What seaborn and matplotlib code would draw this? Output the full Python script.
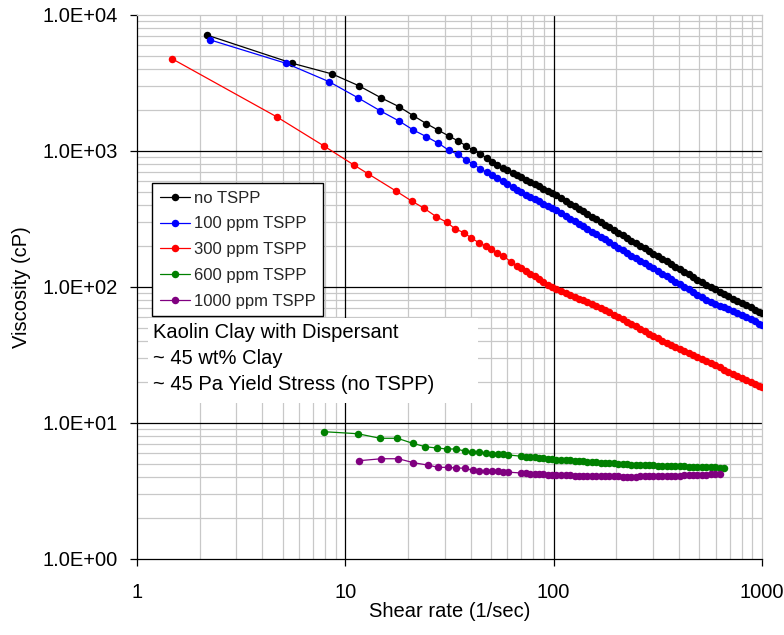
import matplotlib
matplotlib.use("Agg")
import matplotlib.pyplot as plt
from matplotlib.patches import Rectangle
from matplotlib.ticker import FixedLocator, FuncFormatter, NullFormatter, LogLocator
import pandas as pd
import seaborn as sns

# Series names and colours
samples = ["no TSPP", "100 ppm TSPP", "300 ppm TSPP", "600 ppm TSPP", "1000 ppm TSPP"]
colors = ["#000000", "#0000FF", "#FF0000", "#008000", "#800080"]

# Low shear-rate steps (1/sec) and viscosities (cP), individual readings
rate_none = [2.16, 5.57, 8.65, 11.6, 14.8, 18.1, 21.2, 24.5, 28.0, 31.4, 34.6, 38.1, 41.2,
             44.3, 47.7, 50.8, 53.7, 57.0, 60.0, 63.6, 66.5]
visc_none = [7130, 4414, 3683, 3020, 2466, 2117, 1818, 1588, 1419, 1289, 1190, 1089, 1012,
             951, 893, 834, 793, 754, 725, 692, 663]

rate_100 = [2.23, 5.19, 8.35, 11.47, 14.68, 18.1, 21.2, 24.5, 28.0, 31.4, 34.6, 38.1, 41.2,
            44.3, 47.7, 50.8, 53.7, 57.0, 60.0, 63.6, 66.5]
visc_100 = [6580, 4414, 3235, 2466, 1978, 1662, 1427, 1274, 1139, 1012, 945, 859, 798,
            741, 697, 663, 633, 602, 572, 541, 517]

rate_300 = [1.48, 4.70, 7.9, 11.05, 12.9, 17.5, 20.8, 23.9, 27.3, 30.7, 33.7, 37.1, 40.1,
            43.7, 47.2, 50.1, 53.7, 57.3, 62.2, 66.5]
visc_300 = [4747, 1778, 1088, 785, 678, 508, 429, 379, 329, 299, 267, 251, 230,
            212, 200, 189, 179, 169, 153.5, 143]

rate_600 = [7.9, 11.47, 14.68, 17.77, 21.07, 24.2, 27.47, 30.88, 34.1, 37.4, 40.7, 44.0,
            47.2, 50.6, 53.9, 57.2, 60.4]
visc_600 = [8.63, 8.34, 7.72, 7.72, 7.09, 6.69, 6.55, 6.44, 6.44, 6.22, 6.12, 6.09,
            5.98, 5.95, 5.92, 5.89, 5.82]

rate_1000 = [11.6, 14.9, 17.97, 21.2, 24.8, 27.9, 31.1, 34.1, 37.4, 40.9, 44.0, 47.2,
             50.6, 53.9, 57.2, 60.4]
visc_1000 = [5.28, 5.46, 5.46, 5.11, 4.91, 4.72, 4.72, 4.67, 4.65, 4.49, 4.44, 4.41,
             4.41, 4.41, 4.36, 4.35]

# Dense part of the ramp (1/sec), shared by all samples
rate_dense = [70, 73.5, 77.2, 81, 85, 89.3, 93.8, 98.5, 103, 108, 114, 120, 126, 132, 138,
              145, 152, 160, 168, 176, 185, 194, 204, 214, 225, 236, 248, 260, 273, 287,
              301, 316, 332, 349, 366, 384, 404, 424, 445, 467, 490, 515, 541, 568, 596,
              626, 657, 690, 725, 761, 799, 839, 881, 925, 971, 1000]

dense_none = [639, 615, 592, 571, 550, 529, 510, 491, 472, 452, 430, 410, 392, 375, 360,
              344, 329, 314, 300, 288, 275, 263, 251, 240, 229, 219, 210, 201, 192, 184,
              176, 169, 161, 154, 148, 141, 135, 129, 124, 118, 113, 108, 104, 99.6, 95.9,
              92.3, 88.9, 85.6, 82.3, 79.3, 76.3, 73.4, 70.7, 68.0, 65.5, 64.0]
dense_100 = [496, 477, 460, 443, 427, 411, 396, 381, 366, 351, 334, 318, 304, 291, 280,
             267, 255, 244, 233, 224, 214, 204, 195, 186, 178, 170, 163, 156, 149, 143,
             137, 131, 125, 120, 115, 109.5, 104.8, 100.2, 96.3, 91.6, 87.7, 83.9, 80.7,
             78.2, 75.6, 73.1, 70.8, 68.5, 66.1, 64.0, 61.9, 59.8, 57.9, 55.8, 53.7, 52.5]
dense_300 = [138, 131, 125, 119.5, 114, 108.7, 103.6, 99.4, 96.5, 93.6, 90.4, 87.4, 84.6,
             82.1, 79.7, 77.1, 74.7, 72.2, 69.9, 67.7, 65.0, 62.6, 60.1, 57.9, 55.6, 53.5,
             51.4, 49.4, 47.5, 45.5, 43.8, 42.0, 40.3, 38.7, 37.2, 36.0, 34.8, 33.6, 32.5,
             31.5, 30.4, 29.4, 28.4, 27.4, 26.5, 25.6, 24.7, 23.8, 23.0, 22.2, 21.5, 20.7,
             20.0, 19.4, 18.7, 18.3]
dense_600 = [5.70, 5.66, 5.62, 5.58, 5.54, 5.50, 5.46, 5.42, 5.39, 5.36, 5.33, 5.30, 5.27,
             5.25, 5.22, 5.19, 5.16, 5.13, 5.11, 5.09, 5.06, 5.04, 5.02, 4.99, 4.97, 4.95,
             4.93, 4.92, 4.90, 4.89, 4.87, 4.86, 4.84, 4.83, 4.82, 4.81, 4.80, 4.79, 4.77,
             4.76, 4.75, 4.74, 4.73, 4.72, 4.71, 4.70, 4.69]
dense_1000 = [4.29, 4.27, 4.25, 4.23, 4.21, 4.19, 4.17, 4.16, 4.15, 4.14, 4.13, 4.12, 4.11,
              4.10, 4.09, 4.08, 4.08, 4.07, 4.06, 4.06, 4.05, 4.05, 4.05, 4.04, 4.04, 4.04,
              4.04, 4.05, 4.05, 4.06, 4.06, 4.07, 4.07, 4.08, 4.09, 4.10, 4.11, 4.12, 4.13,
              4.14, 4.15, 4.16, 4.18, 4.20, 4.22, 4.25]

note_lines = ["Kaolin Clay with Dispersant", "~ 45 wt% Clay", "~ 45 Pa Yield Stress (no TSPP)"]
x_ticks = [1, 10, 100, 1000]
y_ticks = [1, 10, 100, 1000, 10000]

# Long-form table of all measurements
rows = []
for name, r_lo, v_lo, v_hi in [
    (samples[0], rate_none, visc_none, dense_none),
    (samples[1], rate_100, visc_100, dense_100),
    (samples[2], rate_300, visc_300, dense_300),
    (samples[3], rate_600, visc_600, dense_600),
    (samples[4], rate_1000, visc_1000, dense_1000),
]:
    rates = list(r_lo) + rate_dense[:len(v_hi)]
    viscs = list(v_lo) + list(v_hi)
    for r, v in zip(rates, viscs):
        rows.append({"sample": name, "rate": r, "visc": v})
df = pd.DataFrame(rows)

sns.set_theme(style="white")
plt.rcParams["font.family"] = ["Liberation Sans", "DejaVu Sans"]

fig = plt.figure(figsize=(7.84, 6.35), dpi=100)
ax = fig.add_axes([137 / 784, 1 - 559 / 635, 625 / 784, 544 / 635])
ax.set_xscale("log")
ax.set_yscale("log")

for name, col in zip(samples, colors):
    sub = df[df["sample"] == name]
    sns.lineplot(data=sub, x="rate", y="visc", ax=ax, color=col, marker="o",
                 markersize=5.4, markeredgewidth=0, linewidth=0.9, label=name,
                 sort=False, estimator=None, zorder=3)

ax.set_xlim(1, 1000)
ax.set_ylim(1, 10000)

ax.xaxis.set_major_locator(FixedLocator(x_ticks))
ax.xaxis.set_major_formatter(FuncFormatter(lambda v, p: f"{v:g}"))
ax.yaxis.set_major_locator(FixedLocator(y_ticks))
ax.yaxis.set_major_formatter(FuncFormatter(lambda v, p: f"{v:.1E}"))
for axis in (ax.xaxis, ax.yaxis):
    axis.set_minor_locator(LogLocator(base=10, subs=range(2, 10), numticks=20))
    axis.set_minor_formatter(NullFormatter())

ax.tick_params(which="major", direction="out", length=5, width=0.9, colors="black",
               labelsize=14.5, bottom=True, left=True)
ax.tick_params(axis="y", which="major", pad=9)
ax.tick_params(axis="x", which="major", pad=12)
ax.tick_params(which="minor", length=0)

# Light minor grid, black major grid inside the plot
ax.grid(False)
ax.grid(which="minor", color="#c8c8c8", linewidth=0.9, zorder=0.5)
for xv in [10, 100]:
    ax.axvline(xv, color="black", linewidth=0.9, zorder=1)
for yv in [10, 100, 1000]:
    ax.axhline(yv, color="black", linewidth=0.9, zorder=1)

for side in ["left", "bottom"]:
    ax.spines[side].set_color("black")
    ax.spines[side].set_linewidth(0.9)
for side in ["top", "right"]:
    ax.spines[side].set_color("#c8c8c8")
    ax.spines[side].set_linewidth(0.9)

ax.set_xlabel("Shear rate (1/sec)", fontsize=14.5, color="black")
ax.set_ylabel("Viscosity (cP)", fontsize=14.5, color="black")
ax.xaxis.set_label_coords(0.5, -(602 - 559) / 544)
ax.yaxis.set_label_coords((31 - 137) / 625, 0.5)

leg = ax.legend(loc="upper left", bbox_to_anchor=(0.024, 0.691), frameon=True,
                fancybox=False, edgecolor="black", framealpha=1, fontsize=12,
                handlelength=1.8, handletextpad=0.25, labelspacing=0.65,
                borderpad=0.45, borderaxespad=0)
leg.get_frame().set_linewidth(1.0)
leg.set_zorder(6)

# White text panel with the sample description
ax.add_patch(Rectangle(((148 - 137) / 625, (559 - 403) / 544), (478 - 148) / 625,
                       (403 - 318) / 544, transform=ax.transAxes, facecolor="white",
                       edgecolor="none", zorder=4))
ax.text(0.026, (559 - 323) / 544, "\n".join(note_lines), transform=ax.transAxes,
        ha="left", va="top", fontsize=14.5, linespacing=1.48, color="black", zorder=5)

fig.savefig("out.png", dpi=100)
